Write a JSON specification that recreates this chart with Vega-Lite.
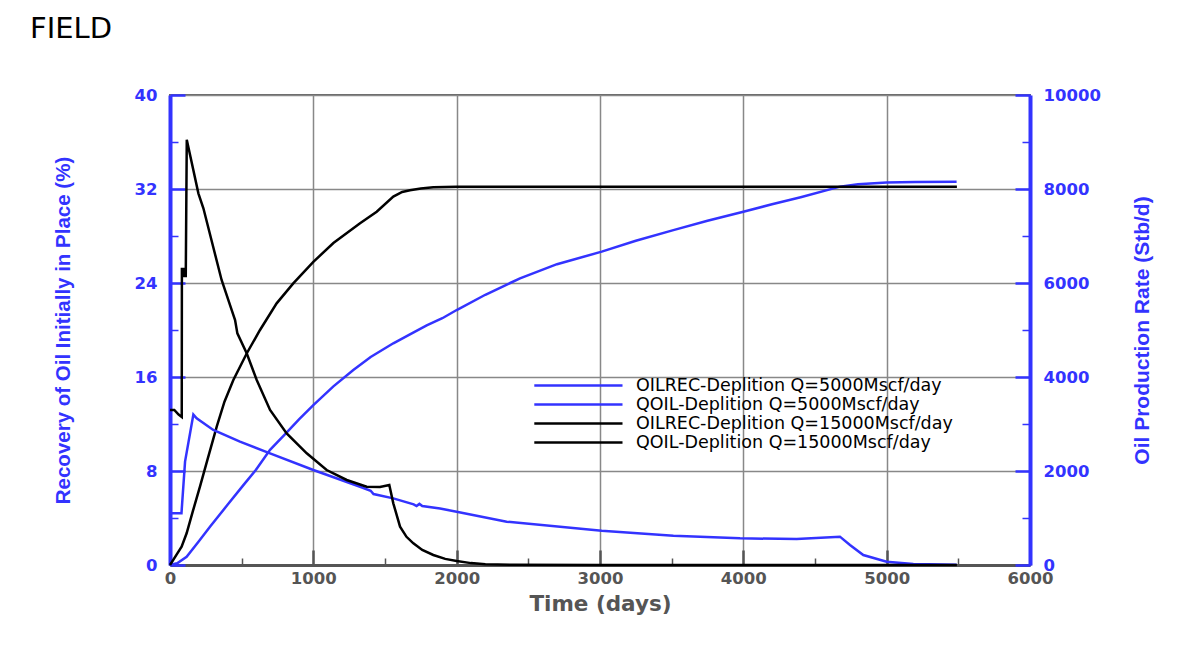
{
  "$schema": "https://vega.github.io/schema/vega-lite/v6.json",
  "width": 860,
  "height": 470,
  "autosize": {"type": "none"},
  "padding": {"left": 170, "top": 95, "right": 158, "bottom": 84},
  "background": "white",
  "title": {"text": "FIELD", "anchor": "start", "frame": "group", "orient": "top", "font": "DejaVu Sans", "fontSize": 29, "fontWeight": "normal", "color": "black", "baseline": "alphabetic", "offset": 0, "dx": -140, "dy": -20},
  "config": {"view": {"stroke": "#666666", "strokeWidth": 2}},
  "datasets": {
    "oilrec": [
      {"s": "OILREC-Deplition Q=5000Mscf/day", "t": 0, "v": 0},
      {"s": "OILREC-Deplition Q=5000Mscf/day", "t": 50, "v": 0.15},
      {"s": "OILREC-Deplition Q=5000Mscf/day", "t": 116, "v": 0.7},
      {"s": "OILREC-Deplition Q=5000Mscf/day", "t": 200, "v": 2.0},
      {"s": "OILREC-Deplition Q=5000Mscf/day", "t": 279, "v": 3.26},
      {"s": "OILREC-Deplition Q=5000Mscf/day", "t": 400, "v": 5.1},
      {"s": "OILREC-Deplition Q=5000Mscf/day", "t": 512, "v": 6.8},
      {"s": "OILREC-Deplition Q=5000Mscf/day", "t": 600, "v": 8.1},
      {"s": "OILREC-Deplition Q=5000Mscf/day", "t": 698, "v": 9.8},
      {"s": "OILREC-Deplition Q=5000Mscf/day", "t": 800, "v": 11.1},
      {"s": "OILREC-Deplition Q=5000Mscf/day", "t": 900, "v": 12.4},
      {"s": "OILREC-Deplition Q=5000Mscf/day", "t": 1000, "v": 13.6},
      {"s": "OILREC-Deplition Q=5000Mscf/day", "t": 1140, "v": 15.2},
      {"s": "OILREC-Deplition Q=5000Mscf/day", "t": 1279, "v": 16.6},
      {"s": "OILREC-Deplition Q=5000Mscf/day", "t": 1400, "v": 17.7},
      {"s": "OILREC-Deplition Q=5000Mscf/day", "t": 1558, "v": 18.87},
      {"s": "OILREC-Deplition Q=5000Mscf/day", "t": 1700, "v": 19.8},
      {"s": "OILREC-Deplition Q=5000Mscf/day", "t": 1791, "v": 20.4},
      {"s": "OILREC-Deplition Q=5000Mscf/day", "t": 1900, "v": 21.0},
      {"s": "OILREC-Deplition Q=5000Mscf/day", "t": 2000, "v": 21.7},
      {"s": "OILREC-Deplition Q=5000Mscf/day", "t": 2200, "v": 23.0},
      {"s": "OILREC-Deplition Q=5000Mscf/day", "t": 2442, "v": 24.4},
      {"s": "OILREC-Deplition Q=5000Mscf/day", "t": 2700, "v": 25.6},
      {"s": "OILREC-Deplition Q=5000Mscf/day", "t": 3012, "v": 26.67},
      {"s": "OILREC-Deplition Q=5000Mscf/day", "t": 3250, "v": 27.6},
      {"s": "OILREC-Deplition Q=5000Mscf/day", "t": 3512, "v": 28.5},
      {"s": "OILREC-Deplition Q=5000Mscf/day", "t": 3750, "v": 29.3},
      {"s": "OILREC-Deplition Q=5000Mscf/day", "t": 4000, "v": 30.07},
      {"s": "OILREC-Deplition Q=5000Mscf/day", "t": 4200, "v": 30.7},
      {"s": "OILREC-Deplition Q=5000Mscf/day", "t": 4400, "v": 31.3},
      {"s": "OILREC-Deplition Q=5000Mscf/day", "t": 4674, "v": 32.2},
      {"s": "OILREC-Deplition Q=5000Mscf/day", "t": 4800, "v": 32.4},
      {"s": "OILREC-Deplition Q=5000Mscf/day", "t": 5000, "v": 32.55},
      {"s": "OILREC-Deplition Q=5000Mscf/day", "t": 5200, "v": 32.6},
      {"s": "OILREC-Deplition Q=5000Mscf/day", "t": 5488, "v": 32.62},
      {"s": "OILREC-Deplition Q=15000Mscf/day", "t": 0, "v": 0},
      {"s": "OILREC-Deplition Q=15000Mscf/day", "t": 47, "v": 0.9},
      {"s": "OILREC-Deplition Q=15000Mscf/day", "t": 81, "v": 1.56},
      {"s": "OILREC-Deplition Q=15000Mscf/day", "t": 116, "v": 2.7},
      {"s": "OILREC-Deplition Q=15000Mscf/day", "t": 160, "v": 4.6},
      {"s": "OILREC-Deplition Q=15000Mscf/day", "t": 209, "v": 6.67},
      {"s": "OILREC-Deplition Q=15000Mscf/day", "t": 260, "v": 8.9},
      {"s": "OILREC-Deplition Q=15000Mscf/day", "t": 326, "v": 11.77},
      {"s": "OILREC-Deplition Q=15000Mscf/day", "t": 380, "v": 13.9},
      {"s": "OILREC-Deplition Q=15000Mscf/day", "t": 442, "v": 15.74},
      {"s": "OILREC-Deplition Q=15000Mscf/day", "t": 535, "v": 18.0},
      {"s": "OILREC-Deplition Q=15000Mscf/day", "t": 628, "v": 20.0},
      {"s": "OILREC-Deplition Q=15000Mscf/day", "t": 744, "v": 22.27},
      {"s": "OILREC-Deplition Q=15000Mscf/day", "t": 860, "v": 23.97},
      {"s": "OILREC-Deplition Q=15000Mscf/day", "t": 1000, "v": 25.8},
      {"s": "OILREC-Deplition Q=15000Mscf/day", "t": 1140, "v": 27.4},
      {"s": "OILREC-Deplition Q=15000Mscf/day", "t": 1326, "v": 29.08},
      {"s": "OILREC-Deplition Q=15000Mscf/day", "t": 1442, "v": 30.07},
      {"s": "OILREC-Deplition Q=15000Mscf/day", "t": 1558, "v": 31.35},
      {"s": "OILREC-Deplition Q=15000Mscf/day", "t": 1620, "v": 31.75},
      {"s": "OILREC-Deplition Q=15000Mscf/day", "t": 1674, "v": 31.9},
      {"s": "OILREC-Deplition Q=15000Mscf/day", "t": 1750, "v": 32.05},
      {"s": "OILREC-Deplition Q=15000Mscf/day", "t": 1837, "v": 32.14},
      {"s": "OILREC-Deplition Q=15000Mscf/day", "t": 2000, "v": 32.2},
      {"s": "OILREC-Deplition Q=15000Mscf/day", "t": 3000, "v": 32.2},
      {"s": "OILREC-Deplition Q=15000Mscf/day", "t": 4000, "v": 32.2},
      {"s": "OILREC-Deplition Q=15000Mscf/day", "t": 5000, "v": 32.2},
      {"s": "OILREC-Deplition Q=15000Mscf/day", "t": 5490, "v": 32.2}
    ],
    "qoil": [
      {"s": "QOIL-Deplition Q=5000Mscf/day", "t": 0, "v": 1100},
      {"s": "QOIL-Deplition Q=5000Mscf/day", "t": 80, "v": 1100},
      {"s": "QOIL-Deplition Q=5000Mscf/day", "t": 105, "v": 2200},
      {"s": "QOIL-Deplition Q=5000Mscf/day", "t": 163, "v": 3200},
      {"s": "QOIL-Deplition Q=5000Mscf/day", "t": 186, "v": 3121},
      {"s": "QOIL-Deplition Q=5000Mscf/day", "t": 302, "v": 2872},
      {"s": "QOIL-Deplition Q=5000Mscf/day", "t": 488, "v": 2624},
      {"s": "QOIL-Deplition Q=5000Mscf/day", "t": 698, "v": 2376},
      {"s": "QOIL-Deplition Q=5000Mscf/day", "t": 1000, "v": 2021},
      {"s": "QOIL-Deplition Q=5000Mscf/day", "t": 1326, "v": 1666},
      {"s": "QOIL-Deplition Q=5000Mscf/day", "t": 1400, "v": 1580},
      {"s": "QOIL-Deplition Q=5000Mscf/day", "t": 1420, "v": 1510},
      {"s": "QOIL-Deplition Q=5000Mscf/day", "t": 1558, "v": 1418},
      {"s": "QOIL-Deplition Q=5000Mscf/day", "t": 1700, "v": 1290},
      {"s": "QOIL-Deplition Q=5000Mscf/day", "t": 1720, "v": 1255},
      {"s": "QOIL-Deplition Q=5000Mscf/day", "t": 1740, "v": 1300},
      {"s": "QOIL-Deplition Q=5000Mscf/day", "t": 1760, "v": 1255},
      {"s": "QOIL-Deplition Q=5000Mscf/day", "t": 1884, "v": 1200},
      {"s": "QOIL-Deplition Q=5000Mscf/day", "t": 2000, "v": 1135},
      {"s": "QOIL-Deplition Q=5000Mscf/day", "t": 2349, "v": 922},
      {"s": "QOIL-Deplition Q=5000Mscf/day", "t": 3012, "v": 730},
      {"s": "QOIL-Deplition Q=5000Mscf/day", "t": 3512, "v": 624},
      {"s": "QOIL-Deplition Q=5000Mscf/day", "t": 3977, "v": 567},
      {"s": "QOIL-Deplition Q=5000Mscf/day", "t": 4372, "v": 553},
      {"s": "QOIL-Deplition Q=5000Mscf/day", "t": 4674, "v": 603},
      {"s": "QOIL-Deplition Q=5000Mscf/day", "t": 4744, "v": 426},
      {"s": "QOIL-Deplition Q=5000Mscf/day", "t": 4837, "v": 213},
      {"s": "QOIL-Deplition Q=5000Mscf/day", "t": 5000, "v": 71},
      {"s": "QOIL-Deplition Q=5000Mscf/day", "t": 5186, "v": 20},
      {"s": "QOIL-Deplition Q=5000Mscf/day", "t": 5488, "v": 5},
      {"s": "QOIL-Deplition Q=15000Mscf/day", "t": 0, "v": 3300},
      {"s": "QOIL-Deplition Q=15000Mscf/day", "t": 30, "v": 3300},
      {"s": "QOIL-Deplition Q=15000Mscf/day", "t": 60, "v": 3200},
      {"s": "QOIL-Deplition Q=15000Mscf/day", "t": 82, "v": 3150},
      {"s": "QOIL-Deplition Q=15000Mscf/day", "t": 83, "v": 6300},
      {"s": "QOIL-Deplition Q=15000Mscf/day", "t": 95, "v": 6300},
      {"s": "QOIL-Deplition Q=15000Mscf/day", "t": 100, "v": 6150},
      {"s": "QOIL-Deplition Q=15000Mscf/day", "t": 110, "v": 6150},
      {"s": "QOIL-Deplition Q=15000Mscf/day", "t": 117, "v": 9050},
      {"s": "QOIL-Deplition Q=15000Mscf/day", "t": 198, "v": 7908},
      {"s": "QOIL-Deplition Q=15000Mscf/day", "t": 233, "v": 7589},
      {"s": "QOIL-Deplition Q=15000Mscf/day", "t": 360, "v": 6064},
      {"s": "QOIL-Deplition Q=15000Mscf/day", "t": 430, "v": 5426},
      {"s": "QOIL-Deplition Q=15000Mscf/day", "t": 454, "v": 5213},
      {"s": "QOIL-Deplition Q=15000Mscf/day", "t": 470, "v": 4929},
      {"s": "QOIL-Deplition Q=15000Mscf/day", "t": 535, "v": 4504},
      {"s": "QOIL-Deplition Q=15000Mscf/day", "t": 605, "v": 3936},
      {"s": "QOIL-Deplition Q=15000Mscf/day", "t": 698, "v": 3298},
      {"s": "QOIL-Deplition Q=15000Mscf/day", "t": 814, "v": 2801},
      {"s": "QOIL-Deplition Q=15000Mscf/day", "t": 954, "v": 2376},
      {"s": "QOIL-Deplition Q=15000Mscf/day", "t": 1093, "v": 2021},
      {"s": "QOIL-Deplition Q=15000Mscf/day", "t": 1233, "v": 1809},
      {"s": "QOIL-Deplition Q=15000Mscf/day", "t": 1372, "v": 1667},
      {"s": "QOIL-Deplition Q=15000Mscf/day", "t": 1465, "v": 1660},
      {"s": "QOIL-Deplition Q=15000Mscf/day", "t": 1530, "v": 1702},
      {"s": "QOIL-Deplition Q=15000Mscf/day", "t": 1558, "v": 1312},
      {"s": "QOIL-Deplition Q=15000Mscf/day", "t": 1605, "v": 816},
      {"s": "QOIL-Deplition Q=15000Mscf/day", "t": 1650, "v": 600},
      {"s": "QOIL-Deplition Q=15000Mscf/day", "t": 1698, "v": 461},
      {"s": "QOIL-Deplition Q=15000Mscf/day", "t": 1760, "v": 320},
      {"s": "QOIL-Deplition Q=15000Mscf/day", "t": 1837, "v": 213},
      {"s": "QOIL-Deplition Q=15000Mscf/day", "t": 1920, "v": 130},
      {"s": "QOIL-Deplition Q=15000Mscf/day", "t": 2000, "v": 85},
      {"s": "QOIL-Deplition Q=15000Mscf/day", "t": 2100, "v": 40},
      {"s": "QOIL-Deplition Q=15000Mscf/day", "t": 2200, "v": 15},
      {"s": "QOIL-Deplition Q=15000Mscf/day", "t": 2400, "v": 5},
      {"s": "QOIL-Deplition Q=15000Mscf/day", "t": 3000, "v": 0},
      {"s": "QOIL-Deplition Q=15000Mscf/day", "t": 4000, "v": 0},
      {"s": "QOIL-Deplition Q=15000Mscf/day", "t": 5490, "v": 0}
    ]
  },
  "encoding": {
    "x": {
      "field": "t", "type": "quantitative",
      "scale": {"domain": [0, 6000], "nice": false},
      "axis": {
        "title": "Time (days)",
        "values": [0, 500, 1000, 1500, 2000, 2500, 3000, 3500, 4000, 4500, 5000, 5500, 6000],
        "format": "d",
        "labelExpr": "datum.value % 1000 === 0 ? datum.label : ''",
        "tickSize": {"condition": {"test": "datum.value % 1000 === 0", "value": -15}, "value": -7},
        "tickWidth": {"condition": {"test": "datum.value % 1000 === 0", "value": 2.5}, "value": 1.5},
        "tickColor": "#555555",
        "domainColor": "#555555",
        "domainWidth": 3,
        "grid": true,
        "gridColor": "#888888",
        "gridWidth": 1.5,
        "gridOpacity": {"condition": {"test": "datum.value % 1000 === 0", "value": 1}, "value": 0},
        "labelFont": "DejaVu Sans",
        "labelFontWeight": "bold",
        "labelFontSize": 16.5,
        "labelColor": "#555555",
        "labelPadding": 20,
        "labelFlush": false,
        "labelOverlap": false,
        "labelBaseline": "top",
        "titleFont": "DejaVu Sans",
        "titleFontWeight": "bold",
        "titleFontSize": 21.5,
        "titleColor": "#555555",
        "titlePadding": -1
      }
    },
    "color": {
      "field": "s", "type": "nominal",
      "scale": {
        "domain": ["OILREC-Deplition Q=5000Mscf/day", "QOIL-Deplition Q=5000Mscf/day", "OILREC-Deplition Q=15000Mscf/day", "QOIL-Deplition Q=15000Mscf/day"],
        "range": ["#3333ff", "#3333ff", "#000000", "#000000"]
      },
      "legend": {
        "title": null,
        "orient": "none",
        "legendX": 433,
        "legendY": 280,
        "padding": 0,
        "symbolType": "M-8.8,0H1",
        "symbolSize": 324,
        "symbolStrokeWidth": 2.5,
        "labelFont": "DejaVu Sans",
        "labelFontSize": 17.5,
        "labelColor": "#000000",
        "labelOffset": 12,
        "labelLimit": 0,
        "rowPadding": 0
      }
    }
  },
  "layer": [
    {
      "data": {"name": "oilrec"},
      "mark": {"type": "line", "strokeWidth": 2.5},
      "encoding": {
        "y": {
          "field": "v", "type": "quantitative",
          "scale": {"domain": [0, 40], "nice": false},
          "axis": {
            "orient": "left",
            "title": "Recovery of Oil Initially in Place (%)",
            "values": [0, 4, 8, 12, 16, 20, 24, 28, 32, 36, 40],
            "format": "d",
            "labelExpr": "datum.value % 8 === 0 ? datum.label : ''",
            "tickSize": {"condition": {"test": "datum.value % 8 === 0", "value": -15}, "value": -8},
            "tickWidth": {"condition": {"test": "datum.value % 8 === 0", "value": 2.5}, "value": 1.5},
            "tickColor": "#3333ff",
            "domainColor": "#3333ff",
            "domainWidth": 4,
            "grid": true,
            "gridColor": "#888888",
            "gridWidth": 1.5,
            "gridOpacity": {"condition": {"test": "datum.value % 8 === 0", "value": 1}, "value": 0},
            "labelFont": "DejaVu Sans",
            "labelFontWeight": "bold",
            "labelFontSize": 16.5,
            "labelColor": "#3333ff",
            "labelPadding": 28,
            "labelFlush": false,
            "labelOverlap": false,
            "titleFont": "Liberation Sans",
            "titleFontWeight": "bold",
            "titleFontSize": 20.5,
            "titleColor": "#3333ff",
            "titlePadding": 61
          }
        }
      }
    },
    {
      "data": {"name": "qoil"},
      "mark": {"type": "line", "strokeWidth": 2.5},
      "encoding": {
        "y": {
          "field": "v", "type": "quantitative",
          "scale": {"domain": [0, 10000], "nice": false},
          "axis": {
            "orient": "right",
            "title": "Oil Production Rate (Stb/d)",
            "values": [0, 1000, 2000, 3000, 4000, 5000, 6000, 7000, 8000, 9000, 10000],
            "format": "d",
            "labelExpr": "datum.value % 2000 === 0 ? datum.label : ''",
            "tickSize": {"condition": {"test": "datum.value % 2000 === 0", "value": -15}, "value": -8},
            "tickWidth": {"condition": {"test": "datum.value % 2000 === 0", "value": 2.5}, "value": 1.5},
            "tickColor": "#3333ff",
            "domainColor": "#3333ff",
            "domainWidth": 4,
            "grid": false,
            "labelFont": "DejaVu Sans",
            "labelFontWeight": "bold",
            "labelFontSize": 16.5,
            "labelColor": "#3333ff",
            "labelPadding": 28,
            "labelFlush": false,
            "labelOverlap": false,
            "titleFont": "Liberation Sans",
            "titleFontWeight": "bold",
            "titleFontSize": 21,
            "titleColor": "#3333ff",
            "titleAngle": 270,
            "titleBaseline": "top",
            "titlePadding": 31
          }
        }
      }
    }
  ],
  "resolve": {"scale": {"y": "independent"}}
}
